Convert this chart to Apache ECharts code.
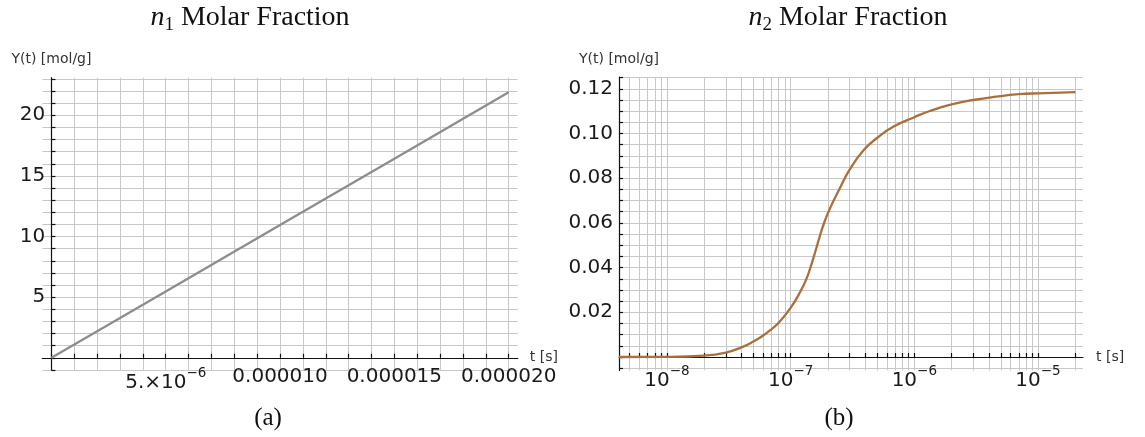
<!DOCTYPE html>
<html>
<head>
<meta charset="utf-8">
<script src="https://cdn.jsdelivr.net/npm/echarts@6/dist/echarts.min.js"></script>
<style>
  html, body { margin: 0; padding: 0; background: #ffffff; }
  #chart { width: 1145px; height: 437px; }
</style>
</head>
<body>
<div id="chart"></div>
<script>
// Panel (a): n1 molar fraction on a linear time axis
const timeA = [0, 5e-6, 10e-6, 15e-6, 20e-6];
const yieldA = [0, 5.47, 10.95, 16.42, 21.9];
const xTicksA = [5e-6, 10e-6, 15e-6, 20e-6];
const xTickLabelsA = ['{b|5.×10}{sup|−6}', '0.000010', '0.000015', '0.000020'];
const yTicksA = [5, 10, 15, 20];
const yTickLabelsA = ['5', '10', '15', '20'];

// Panel (b): n2 molar fraction on a logarithmic time axis
const timeB = [4.1e-9, 1e-8, 2e-8, 3e-8, 4e-8, 5e-8, 6e-8, 7e-8, 8e-8, 1e-7, 1.2e-7, 1.35e-7, 1.5e-7, 1.7e-7,
  1.85e-7, 2.08e-7, 2.5e-7, 3e-7, 3.9e-7, 5e-7, 6.8e-7, 1e-6, 1.35e-6, 2e-6, 3e-6, 4.6e-6, 7e-6, 1e-5, 2e-5];
const yieldB = [0, 0.00005, 0.0006, 0.002, 0.0043, 0.0069, 0.0096, 0.0124, 0.0153, 0.0220, 0.0293, 0.0353, 0.0428, 0.0530,
  0.0594, 0.0665, 0.0755, 0.0838, 0.0926, 0.0980, 0.1031, 0.1073, 0.1102, 0.1130, 0.1150, 0.1165, 0.1176, 0.1180, 0.1185];
const xTicksB = [1e-8, 1e-7, 1e-6, 1e-5];
const xTickLabelsB = ['{b|10}{sup|−8}', '{b|10}{sup|−7}', '{b|10}{sup|−6}', '{b|10}{sup|−5}'];
const yTicksB = [0.02, 0.04, 0.06, 0.08, 0.10, 0.12];
const yTickLabelsB = ['0.02', '0.04', '0.06', '0.08', '0.10', '0.12'];

// Grid line positions (also used for the small axis ticks)
const gridXA = [];
for (let i = 0; i <= 20; i++) gridXA.push(i * 1e-6);
const gridYA = [];
for (let i = -1; i <= 23; i++) gridYA.push(i);
const gridXB = [];
for (let k = -9; k <= -5; k++) {
  for (let m = 1; m <= 9; m++) {
    const v = m * Math.pow(10, k);
    if (v >= 4.1e-9 && v <= 2.31e-5) gridXB.push(v);
  }
}
const gridYB = [];
for (let i = -1; i <= 25; i++) gridYB.push(Math.round(i * 5) / 1000);

function labelFor(ticks, labels) {
  return function (v) {
    const i = ticks.findIndex(t => Math.abs(t - v) <= 1e-6 * Math.abs(t));
    return i < 0 ? '' : labels[i];
  };
}

const FONT = 'DejaVu Sans';
const tickLabelStyle = {
  fontFamily: FONT, fontSize: 20, color: '#1a1a1a',
  rich: {
    b: { fontFamily: FONT, fontSize: 20, color: '#1a1a1a', lineHeight: 26, verticalAlign: 'bottom' },
    sup: { fontFamily: FONT, fontSize: 13.5, color: '#1a1a1a', verticalAlign: 'top' }
  }
};
const axisLineStyle = { color: '#111111', width: 1.2 };
const gridLineStyle = { color: '#c8c8c8', width: 1 };
const nameStyle = { fontFamily: FONT, fontSize: 14, color: '#333333' };

const chart = echarts.init(document.getElementById('chart'), null, { renderer: 'canvas' });

chart.setOption({
  backgroundColor: '#ffffff',
  animation: false,
  grid: [
    { left: 42.3, top: 77.7, width: 475.5, height: 292.2, outerBoundsMode: 'none' },
    { left: 619, top: 77.2, width: 464, height: 293.2, outerBoundsMode: 'none' }
  ],
  xAxis: [
    {
      type: 'value', gridIndex: 0, min: -0.4e-6, max: 20.4e-6,
      axisLine: { onZero: true, lineStyle: axisLineStyle },
      axisTick: { inside: true, length: 4, customValues: gridXA, lineStyle: axisLineStyle },
      axisLabel: Object.assign({ customValues: xTicksA, margin: -3, formatter: labelFor(xTicksA, xTickLabelsA) }, tickLabelStyle),
      splitLine: { show: true, lineStyle: gridLineStyle },
      name: 't [s]', nameLocation: 'end', nameGap: 12, nameTextStyle: nameStyle
    },
    {
      type: 'log', logBase: 10, gridIndex: 1, min: 4.1e-9, max: 2.31e-5,
      axisLine: { onZero: true, lineStyle: axisLineStyle },
      axisTick: { inside: true, length: 4, customValues: gridXB, lineStyle: axisLineStyle },
      axisLabel: Object.assign({ customValues: xTicksB, margin: -6, formatter: labelFor(xTicksB, xTickLabelsB) }, tickLabelStyle),
      splitLine: { show: true, lineStyle: gridLineStyle },
      minorTick: { show: false }, minorSplitLine: { show: false },
      name: 't [s]', nameLocation: 'end', nameGap: 13, nameTextStyle: nameStyle
    }
  ],
  yAxis: [
    {
      type: 'value', gridIndex: 0, min: -1, max: 23.1,
      axisLine: { show: true, onZero: true, lineStyle: axisLineStyle },
      axisTick: { show: true, inside: true, length: 4, customValues: gridYA, lineStyle: axisLineStyle },
      axisLabel: Object.assign({ customValues: yTicksA, margin: -3, formatter: labelFor(yTicksA, yTickLabelsA) }, tickLabelStyle),
      splitLine: { show: true, lineStyle: gridLineStyle },
      name: 'Y(t) [mol/g]', nameLocation: 'end', nameGap: 11, nameTextStyle: nameStyle
    },
    {
      type: 'value', gridIndex: 1, min: -0.006, max: 0.1252,
      axisLine: { show: true, onZero: false, lineStyle: axisLineStyle },
      axisTick: { show: true, inside: true, length: 4, customValues: gridYB, lineStyle: axisLineStyle },
      axisLabel: Object.assign({ customValues: yTicksB, margin: 6, formatter: labelFor(yTicksB, yTickLabelsB) }, tickLabelStyle),
      splitLine: { show: true, lineStyle: gridLineStyle },
      name: 'Y(t) [mol/g]', nameLocation: 'end', nameGap: 11, nameTextStyle: nameStyle
    }
  ],
  series: [
    {
      type: 'line', xAxisIndex: 0, yAxisIndex: 0,
      data: timeA.map((t, i) => [t, yieldA[i]]),
      showSymbol: false, silent: true,
      lineStyle: { color: '#8d8d8d', width: 2.3 }
    },
    {
      type: 'line', xAxisIndex: 1, yAxisIndex: 1,
      data: timeB.map((t, i) => [t, yieldB[i]]),
      showSymbol: false, silent: true, smooth: 0.5,
      lineStyle: { color: '#a8703c', width: 2.3 }
    }
  ],
  graphic: [
    {
      type: 'text', x: 250, y: 18,
      style: {
        text: '{i|n}{s|1}{t| Molar Fraction}', align: 'center', verticalAlign: 'middle',
        rich: {
          i: { fontFamily: 'Liberation Serif', fontStyle: 'italic', fontSize: 28, lineHeight: 34, verticalAlign: 'middle', fill: '#111' },
          s: { fontFamily: 'Liberation Serif', fontSize: 19, lineHeight: 34, verticalAlign: 'bottom', fill: '#111' },
          t: { fontFamily: 'Liberation Serif', fontSize: 28, lineHeight: 34, verticalAlign: 'middle', fill: '#111' }
        }
      }
    },
    {
      type: 'text', x: 848, y: 18,
      style: {
        text: '{i|n}{s|2}{t| Molar Fraction}', align: 'center', verticalAlign: 'middle',
        rich: {
          i: { fontFamily: 'Liberation Serif', fontStyle: 'italic', fontSize: 28, lineHeight: 34, verticalAlign: 'middle', fill: '#111' },
          s: { fontFamily: 'Liberation Serif', fontSize: 19, lineHeight: 34, verticalAlign: 'bottom', fill: '#111' },
          t: { fontFamily: 'Liberation Serif', fontSize: 28, lineHeight: 34, verticalAlign: 'middle', fill: '#111' }
        }
      }
    },
    {
      type: 'text', x: 268, y: 418,
      style: { text: '(a)', align: 'center', verticalAlign: 'middle', fontFamily: 'Liberation Serif', fontSize: 25, fill: '#111' }
    },
    {
      type: 'text', x: 839, y: 418,
      style: { text: '(b)', align: 'center', verticalAlign: 'middle', fontFamily: 'Liberation Serif', fontSize: 25, fill: '#111' }
    }
  ]
});
</script>
</body>
</html>
